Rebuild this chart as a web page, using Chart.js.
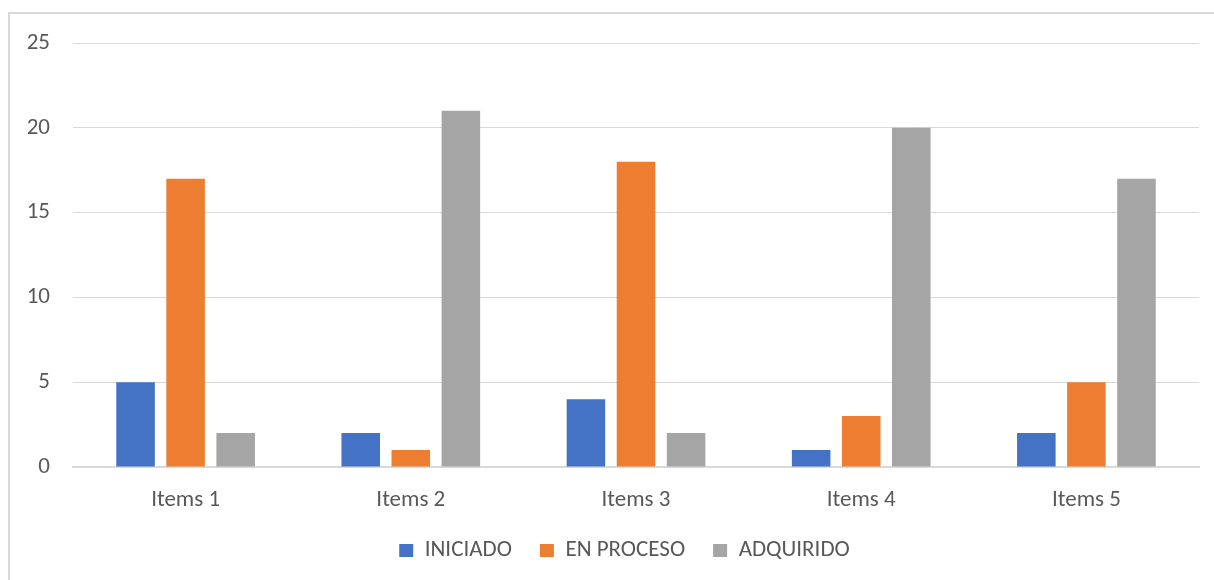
<!DOCTYPE html>
<html>
<head>
<meta charset="utf-8">
<script src="https://cdn.jsdelivr.net/npm/chart.js@4.4.1/dist/chart.umd.min.js"></script>
<style>
  html, body { margin: 0; padding: 0; background: #ffffff; }
  #wrap { position: relative; width: 1214px; height: 580px; overflow: hidden; }
  #frame { position: absolute; left: 8px; top: 12px; width: 1300px; height: 700px; border: 2px solid #d9d9d9; box-sizing: border-box; }
  #c { position: absolute; left: 0; top: 0; }
</style>
</head>
<body>
<div id="wrap">
  <div id="frame"></div>
  <canvas id="c" width="1214" height="580"></canvas>
</div>
<script>
const categories = ["Items 1", "Items 2", "Items 3", "Items 4", "Items 5"];
const iniciado   = [5, 2, 4, 1, 2];
const enProceso  = [17, 1, 18, 3, 5];
const adquirido  = [2, 21, 2, 20, 17];
const seriesNames = ["INICIADO", "EN PROCESO", "ADQUIRIDO"];
const yTicks = [0, 5, 10, 15, 20, 25];

const FONT = "Calibri, Carlito, Lato, sans-serif";
const TEXT = "#595959";
const GRID = "#d9d9d9";

Chart.defaults.font.family = FONT;
Chart.defaults.color = TEXT;

const legendShift = {
  id: "legendShift",
  afterLayout(chart) {
    if (chart.legend) {
      chart.legend.left += 25;
      chart.legend.right += 25;
    }
  }
};

new Chart(document.getElementById("c"), {
  type: "bar",
  data: {
    labels: categories,
    datasets: [
      { label: seriesNames[0], data: iniciado,  backgroundColor: "#4472C4" },
      { label: seriesNames[1], data: enProceso, backgroundColor: "#ED7D31" },
      { label: seriesNames[2], data: adquirido, backgroundColor: "#A5A5A5" }
    ]
  },
  plugins: [legendShift],
  options: {
    responsive: false,
    animation: false,
    devicePixelRatio: 1,
    datasets: { bar: { categoryPercentage: 0.667, barPercentage: 0.77 } },
    layout: { padding: { left: 0, right: 15, top: 43, bottom: 8 } },
    plugins: {
      tooltip: { enabled: false },
      legend: {
        position: "bottom",
        labels: {
          boxWidth: 14,
          boxHeight: 13,
          padding: 28,
          font: { size: 23 },
          color: TEXT
        }
      }
    },
    scales: {
      x: {
        grid: { display: false, drawTicks: false },
        border: { display: true, color: GRID, width: 2 },
        ticks: { padding: 19, font: { size: 23 }, color: TEXT },
        afterFit: (s) => { s.height = 44; }
      },
      y: {
        min: 0,
        max: 25,
        afterBuildTicks: (s) => { s.ticks = yTicks.map(v => ({ value: v })); },
        grid: { color: GRID, lineWidth: 1, drawTicks: false, tickLength: 0 },
        border: { display: false },
        ticks: { padding: 23, font: { size: 23 }, color: TEXT },
        afterFit: (s) => { s.width = 73; }
      }
    }
  }
});
</script>
</body>
</html>
